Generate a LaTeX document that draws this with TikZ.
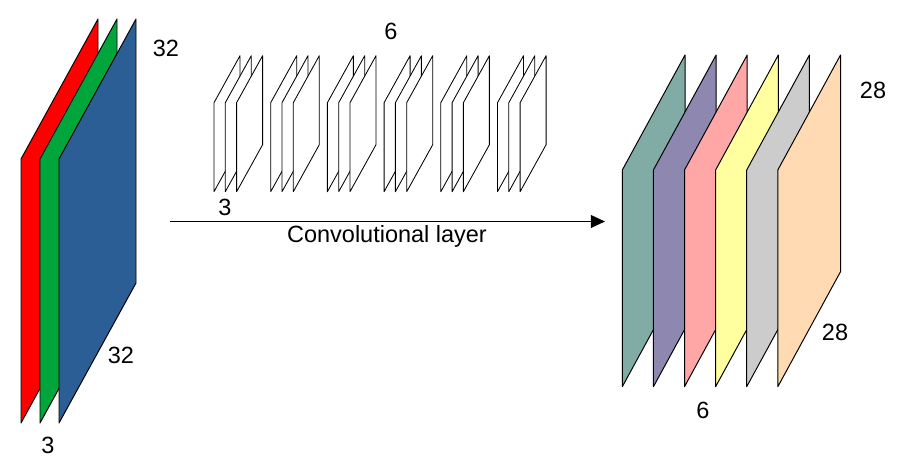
\documentclass[tikz,border=0pt]{standalone}
\usepackage{fontspec}
\setmainfont{Liberation Sans}
\usetikzlibrary{arrows.meta}

\definecolor{inred}{RGB}{255,0,0}
\definecolor{ingreen}{RGB}{0,166,60}
\definecolor{inblue}{RGB}{44,94,150}
\definecolor{outteal}{RGB}{128,172,165}
\definecolor{outpurple}{RGB}{142,135,175}
\definecolor{outpink}{RGB}{255,166,166}
\definecolor{outyellow}{RGB}{255,255,160}
\definecolor{outgray}{RGB}{204,204,204}
\definecolor{outpeach}{RGB}{255,218,178}

\begin{document}
\begin{tikzpicture}[x=0.025cm, y=-0.025cm,
  plane/.style={draw=black, line width=0.7pt, line join=round},
  filterplane/.style={draw=black, fill=white, line width=0.6pt, line join=round},
  dimlabel/.style={font=\fontsize{16.7}{20}\selectfont, inner sep=0pt}]
  \useasboundingbox (0,0) rectangle (907,472);

  % Input volume 32x32x3
  \foreach \i/\col in {0/inred, 1/ingreen, 2/inblue} {
    \filldraw[plane, fill=\col] ({21+19*\i},423) -- ++(0,-264) -- ++(77,-140) -- ++(0,264) -- cycle;
  }
  \node[dimlabel] (inheight) at (166,48) {32};
  \node[dimlabel] (inwidth) at (121,355) {32};
  \node[dimlabel] (indepth) at (48,445) {3};

  % 6 filters, each of depth 3
  \foreach \g in {0,...,5} {
    \foreach \j in {0,1,2} {
      \filldraw[filterplane] ({214+56.7*\g+11.3*\j},191.7) -- ++(0,-89) -- ++(26,-47) -- ++(0,89) -- cycle;
    }
  }
  \node[dimlabel] (filtcount) at (391,31) {6};
  \node[dimlabel] (filtdepth) at (225,207) {3};

  % Convolution arrow
  \coordinate (arrowstart) at (170,221.5);
  \coordinate (arrowend) at (605,221.5);
  \draw[line width=1.1pt, -{Triangle[length=10pt, width=9pt]}] (arrowstart) -- (arrowend);
  \node[dimlabel] (convlabel) at (387,236) {Convolutional layer};

  % Output volume 28x28x6
  \foreach \i/\col in {0/outteal, 1/outpurple, 2/outpink, 3/outyellow, 4/outgray, 5/outpeach} {
    \filldraw[plane, fill=\col] ({622.3+31.1*\i},386.7) -- ++(0,-216.7) -- ++(62.7,-115) -- ++(0,216.7) -- cycle;
  }
  \node[dimlabel] (outheight) at (873,90) {28};
  \node[dimlabel] (outwidth) at (835,332) {28};
  \node[dimlabel] (outdepth) at (703,410) {6};
\end{tikzpicture}
\end{document}
